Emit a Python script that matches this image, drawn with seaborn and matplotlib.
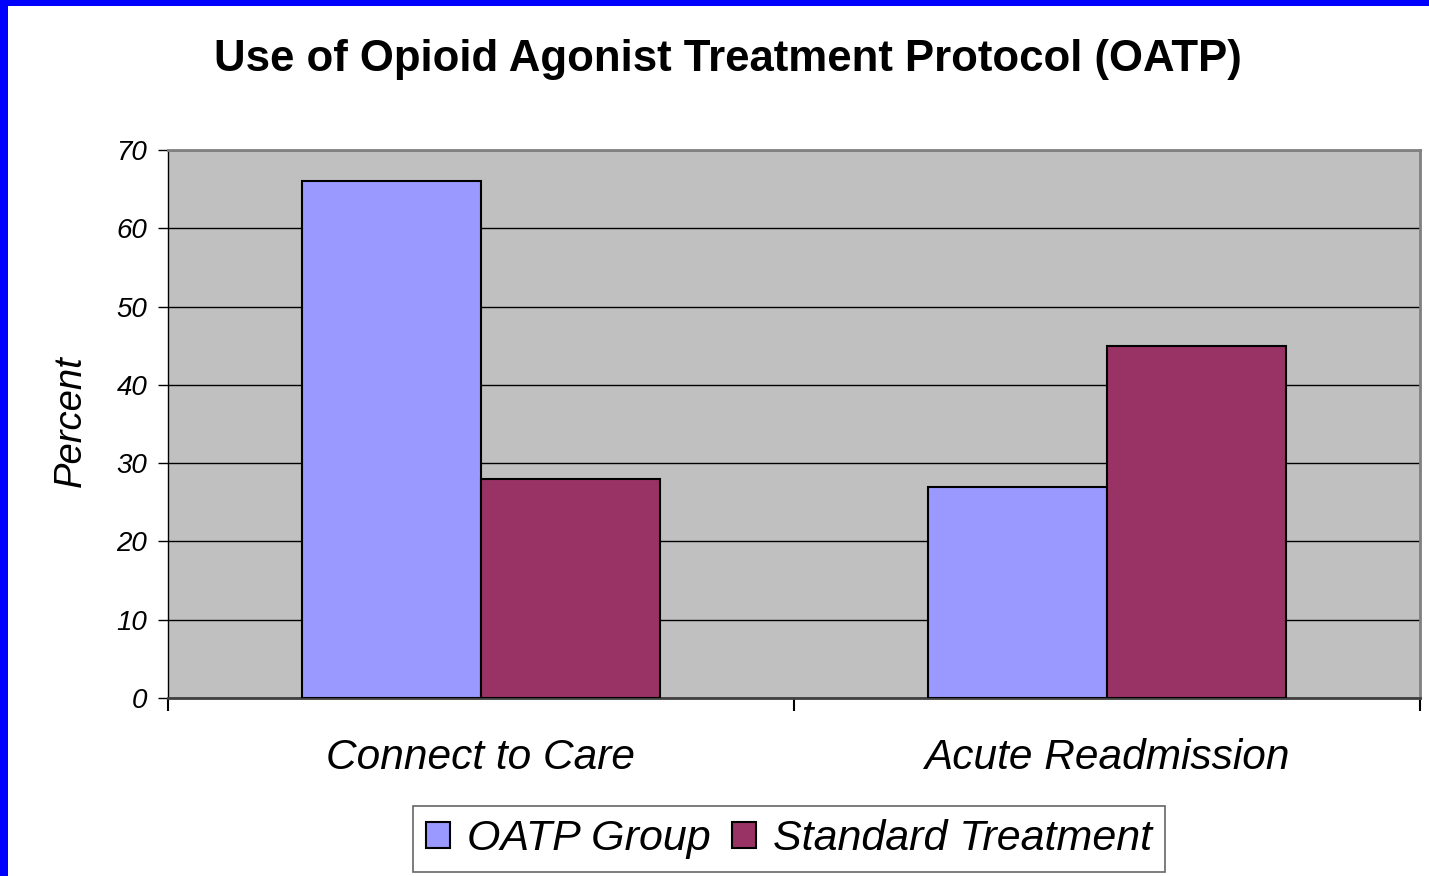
import matplotlib
matplotlib.use("Agg")
import matplotlib.pyplot as plt
import seaborn as sns
import pandas as pd
from matplotlib.patches import Rectangle, Patch

categories = ["Connect to Care", "Acute Readmission"]
groups = ["OATP Group", "Standard Treatment"]
oatp_values = [66, 27]
standard_values = [28, 45]
y_ticks = [0, 10, 20, 30, 40, 50, 60, 70]
title = "Use of Opioid Agonist Treatment Protocol (OATP)"
colors = ["#9999FF", "#993366"]

df = pd.DataFrame({
    "category": categories * 2,
    "group": [groups[0]] * 2 + [groups[1]] * 2,
    "value": oatp_values + standard_values,
})

sns.set_theme(style="white")
plt.rcParams['font.family'] = ['Liberation Sans', 'DejaVu Sans']
plt.rcParams['text.color'] = 'black'
plt.rcParams['axes.labelcolor'] = 'black'
plt.rcParams['xtick.color'] = 'black'
plt.rcParams['ytick.color'] = 'black'

fig = plt.figure(figsize=(14.29, 8.76), dpi=100)
ax = fig.add_axes([168/1429, 1-698/876, (1420-168)/1429, (698-150)/876])
ax.set_facecolor("#C0C0C0")

sns.barplot(data=df, x="category", y="value", hue="group", order=categories,
            hue_order=groups, palette=colors, saturation=1, width=0.572, ax=ax,
            edgecolor="black", linewidth=1.5, legend=False, zorder=3)

ax.set_xlim(-0.5, 1.5)
ax.set_ylim(0, 70)
ax.set_yticks(y_ticks)
ax.set_yticklabels([str(t) for t in y_ticks], fontsize=20, style="italic")
ax.yaxis.grid(True, color="black", linewidth=1.0, zorder=0)
ax.set_axisbelow(True)
ax.tick_params(axis="y", length=7, width=1, color="black", pad=8, left=True)

ax.set_xticks([0, 1])
ax.set_xticklabels(categories, fontsize=30.5, style="italic")
ax.set_xticks([-0.5, 0.5, 1.5], minor=True)
ax.tick_params(axis="x", which="major", length=0, pad=29)
ax.tick_params(axis="x", which="minor", length=9, width=1.5, color="black", bottom=True)
ax.set_xlabel("")

ax.set_ylabel("Percent", fontsize=27.5, style="italic", va="center")
ax.yaxis.set_label_coords(-0.078, 0.505)

for side in ["top", "right"]:
    ax.spines[side].set_color("#808080")
    ax.spines[side].set_linewidth(2)
ax.spines["left"].set_color("black")
ax.spines["left"].set_linewidth(1)
ax.spines["bottom"].set_color("#404040")
ax.spines["bottom"].set_linewidth(2)

fig.text(728/1429, 1-59/876, title, fontsize=31.5, fontweight="bold",
         ha="center", va="center")

handles = [Patch(facecolor=c, edgecolor="black", linewidth=1.5) for c in colors]
leg = fig.legend(handles, groups, loc="center", bbox_to_anchor=(789/1429, 1-839/876),
                 ncol=2, prop={"style": "italic", "size": 31},
                 frameon=True, fancybox=False, edgecolor="#404040",
                 handlelength=0.56, handleheight=0.56, handletextpad=0.4,
                 columnspacing=0.5, borderpad=0.3, borderaxespad=0)
leg.get_frame().set_linewidth(1.2)

# blue border
fig.patches.append(Rectangle((0, 0), 8/1429, 1, transform=fig.transFigure,
                             facecolor="#0000FF", edgecolor="none", zorder=10))
fig.patches.append(Rectangle((0, 1-6/876), 1, 6/876, transform=fig.transFigure,
                             facecolor="#0000FF", edgecolor="none", zorder=10))

fig.savefig("out.png", dpi=100, facecolor="white")
